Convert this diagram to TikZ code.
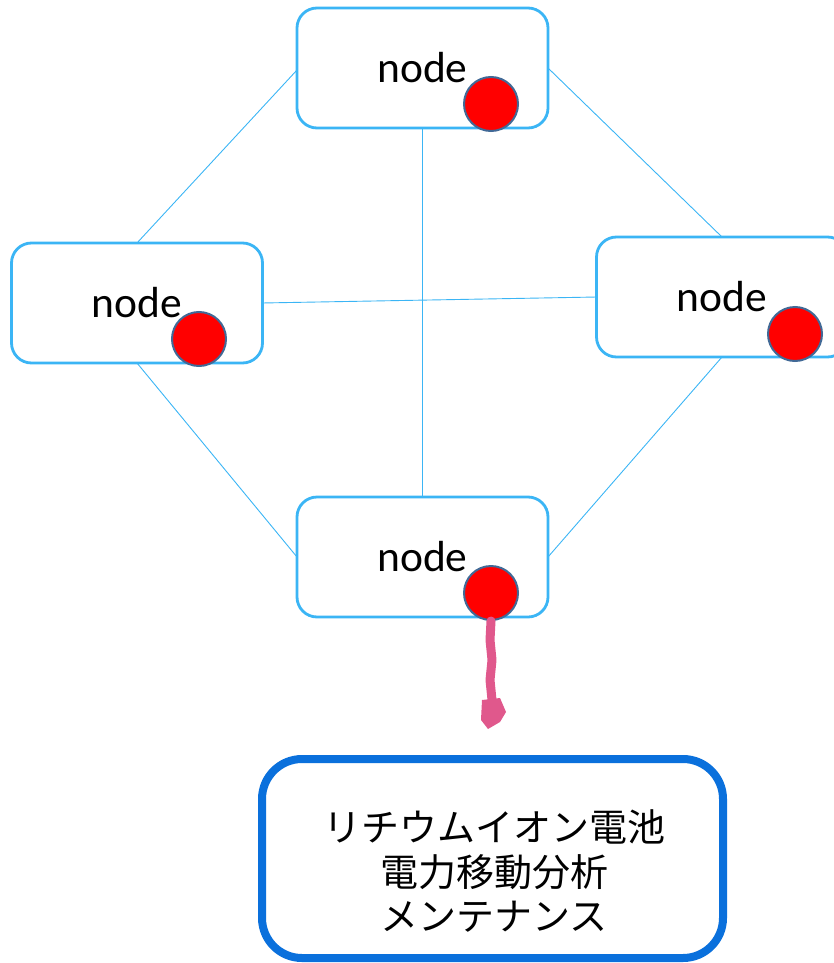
\documentclass[tikz,border=0pt]{standalone}
\usepackage{fontspec}
\setmainfont{Carlito}
\newfontfamily\cjk{Noto Sans CJK JP}
\definecolor{boxblue}{RGB}{59,181,245}
\definecolor{rimblue}{RGB}{65,105,150}
\definecolor{bigblue}{RGB}{10,112,220}
\definecolor{pinkish}{RGB}{224,88,140}
\tikzset{
  netbox/.style={draw=boxblue, line width=2.8pt, rounded corners=20pt, fill=white,
    minimum width=251pt, minimum height=120pt, font=\fontsize{43.5}{50}\selectfont, inner sep=0pt},
  dot/.style={circle, fill=red, draw=rimblue, line width=2pt, minimum size=54pt, inner sep=0pt},
  link/.style={draw=boxblue, line width=0.9pt},
  bigbox/.style={draw=bigblue, line width=8pt, rounded corners=40pt, fill=white,
    minimum width=461pt, minimum height=199pt},
}
\begin{document}
\begin{tikzpicture}[x=1pt,y=-1pt]
\useasboundingbox (0,0) rectangle (834,963);
% links (behind boxes)
\coordinate (tW) at (297,70);
\coordinate (tE) at (548,68);
\coordinate (tS) at (422,128);
\coordinate (lN) at (137,243);
\coordinate (lE) at (262,303);
\coordinate (lS) at (137,363);
\coordinate (rN) at (722,237);
\coordinate (rW) at (597,297);
\coordinate (rS) at (722,357);
\coordinate (bN) at (422,497);
\coordinate (bW) at (297,557);
\coordinate (bE) at (548,557);
\draw[link] (tW) -- (lN);
\draw[link] (tE) -- (rN);
\draw[link] (tS) -- (bN);
\draw[link] (lE) -- (rW);
\draw[link] (lS) -- (bW);
\draw[link] (rS) -- (bE);
% boxes
\node[netbox] (top) at (422.5,68) {\raisebox{-2pt}{node}};
\node[netbox] (left) at (137,303) {\raisebox{-2pt}{node}};
\node[netbox] (right) at (722,297) {\raisebox{-1pt}{node}};
\node[netbox] (bottom) at (422.5,557) {\raisebox{-2pt}{node}};
% dots
\node[dot] (dtop) at (491,104) {};
\node[dot] (dleft) at (199,339) {};
\node[dot] (dright) at (795,334) {};
\node[dot] (dbottom) at (491,593) {};
% pink hand-drawn arrow
\coordinate (aend) at (491,712);
\draw[pinkish, line width=9pt, line cap=round, line join=round]
  (dbottom.south) -- (490,640) -- (492,660) -- (490,680) -- (492,700) -- (aend);
\fill[pinkish] (482,700) -- (500,698) -- (506,712) -- (500,722) -- (488,729) -- (481,720) -- cycle;
% bottom box
\node[bigbox] (big) at (492.5,858.5) {};
\node[font=\cjk\fontsize{38}{44.5}\selectfont, align=center, inner sep=0pt] (label) at (494,871)
  {リチウムイオン電池\\電力移動分析\\メンテナンス};
\end{tikzpicture}
\end{document}
